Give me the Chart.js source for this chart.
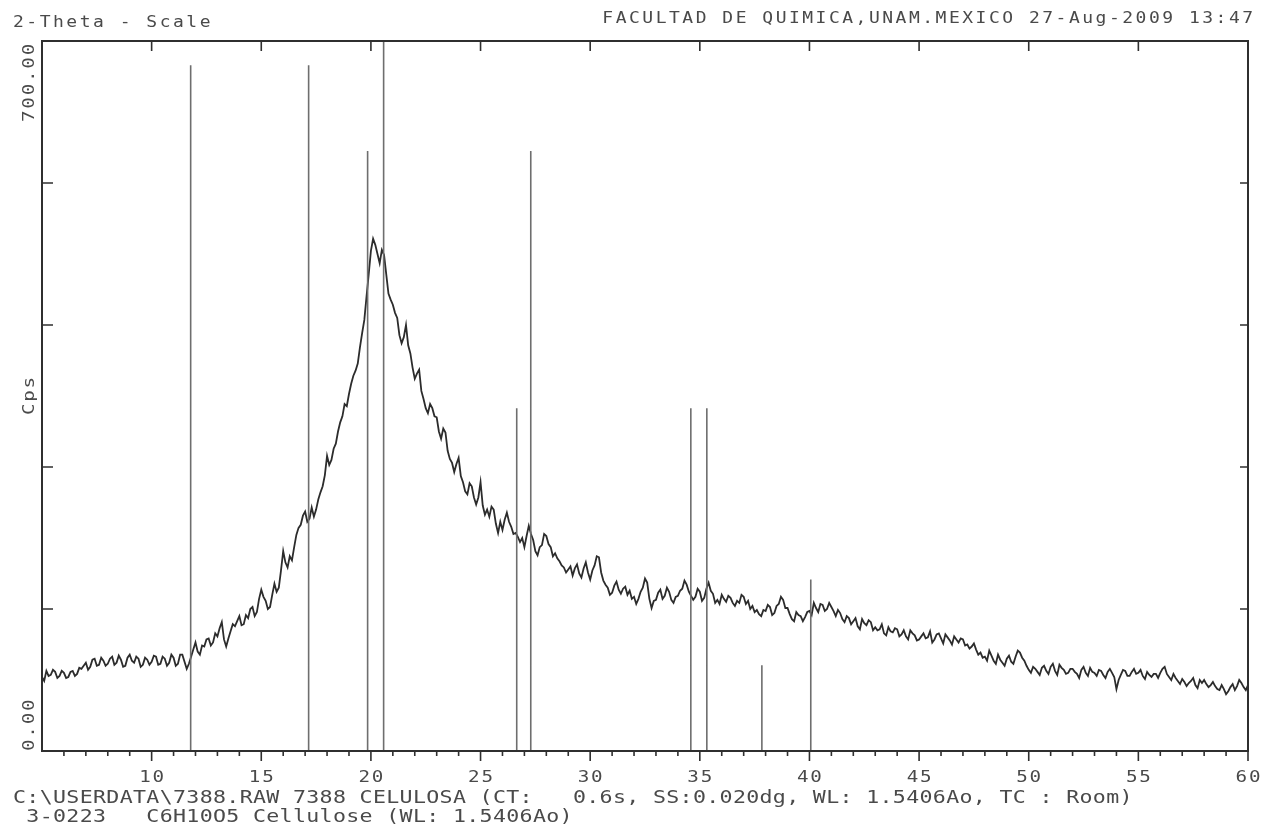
<!DOCTYPE html>
<html>
<head>
<meta charset="utf-8">
<title>7388 CELULOSA - XRD</title>
<script src="https://cdn.jsdelivr.net/npm/chart.js@4.4.0/dist/chart.umd.min.js"></script>
<style>
  html, body { margin: 0; padding: 0; background: #fff; }
  canvas { display: block; }
</style>
</head>
<body>
<canvas id="xrdChart" width="1266" height="827"></canvas>
<script>
// Scan (2-theta in degrees), one reading every scanStep
const scanStart = 5;
const scanStep = 0.1;

// Counts per second, 5.0 .. 60.0
const cps = [
  73, 69, 79, 74, 75, 80, 78, 72, 74, 79,            // 5
  77, 72, 73, 78, 79, 74, 76, 82, 81, 84,            // 6
  87, 80, 83, 90, 91, 84, 85, 92, 89, 84,            // 7
  86, 91, 93, 85, 87, 94, 90, 83, 84, 92,            // 8
  95, 89, 87, 93, 91, 83, 85, 92, 90, 85,            // 9
  88, 94, 93, 85, 86, 93, 91, 84, 87, 95,            // 10
  92, 84, 86, 95, 95, 88, 81, 86, 93, 100,           // 11
  107, 98, 95, 104, 103, 110, 111, 104, 107, 116,    // 12
  113, 121, 127, 110, 103, 111, 118, 125, 123, 128,  // 13
  133, 124, 125, 134, 131, 140, 142, 133, 137, 150,  // 14
  159, 152, 148, 140, 142, 154, 165, 157, 161, 178,  // 15
  197, 186, 181, 192, 188, 201, 213, 220, 223, 232,  // 16
  236, 226, 229, 240, 231, 238, 248, 255, 261, 272,  // 17
  291, 282, 287, 298, 303, 315, 324, 330, 342, 340,  // 18
  352, 362, 370, 375, 382, 398, 412, 425, 448, 470,  // 19
  493, 505, 499, 490, 481, 494, 489, 470, 451, 445,  // 20
  440, 432, 427, 410, 402, 408, 420, 400, 392, 378,  // 21
  367, 372, 376, 355, 347, 338, 333, 342, 338, 330,  // 22
  329, 315, 308, 318, 314, 296, 288, 284, 275, 283,  // 23
  289, 271, 265, 256, 253, 264, 261, 250, 243, 250,  // 24
  265, 242, 233, 238, 231, 241, 238, 224, 215, 226,  // 25
  218, 228, 235, 226, 221, 214, 215, 211, 206, 210,  // 26
  201, 212, 222, 214, 208, 197, 193, 201, 203, 214,  // 27
  212, 204, 201, 192, 195, 190, 187, 183, 181, 176,  // 28
  179, 182, 173, 180, 184, 175, 171, 180, 186, 176,  // 29
  169, 178, 183, 192, 191, 176, 168, 164, 161, 154,  // 30
  156, 163, 167, 159, 155, 160, 162, 154, 158, 150,  // 31
  152, 145, 150, 157, 161, 170, 166, 150, 141, 148,  // 32
  149, 156, 159, 150, 153, 161, 157, 149, 146, 152,  // 33
  153, 158, 160, 168, 164, 157, 153, 149, 152, 160,  // 34
  157, 148, 151, 160, 166, 158, 155, 146, 149, 145,  // 35
  154, 150, 147, 153, 151, 146, 143, 148, 146, 154,  // 36
  152, 145, 148, 140, 143, 137, 139, 135, 133, 139,  // 37
  138, 144, 142, 134, 136, 143, 145, 152, 149, 141,  // 38
  141, 135, 130, 128, 137, 134, 133, 128, 132, 137,  // 39
  138, 134, 146, 141, 137, 145, 144, 138, 140, 146,  // 40
  142, 138, 133, 139, 136, 130, 127, 133, 131, 125,  // 41
  128, 131, 123, 120, 130, 126, 124, 129, 127, 119,  // 42
  122, 119, 120, 125, 116, 114, 122, 118, 117, 121,  // 43
  120, 113, 115, 119, 113, 110, 119, 116, 114, 109,  // 44
  110, 113, 116, 111, 112, 118, 107, 110, 115, 116,  // 45
  111, 106, 115, 112, 109, 105, 113, 110, 107, 111,  // 46
  110, 104, 105, 101, 103, 106, 100, 95, 97, 92,     // 47
  93, 89, 99, 94, 89, 86, 95, 90, 87, 84,            // 48
  91, 94, 88, 86, 93, 99, 97, 92, 89, 84,            // 49
  80, 77, 83, 81, 78, 75, 82, 84, 79, 76,            // 50
  83, 86, 79, 75, 85, 82, 80, 76, 77, 81,            // 51
  81, 78, 76, 72, 80, 83, 77, 74, 82, 78,            // 52
  77, 74, 80, 79, 75, 72, 78, 81, 77, 73,            // 53
  61, 70, 75, 80, 79, 74, 74, 78, 81, 76,            // 54
  77, 80, 74, 71, 78, 75, 73, 76, 76, 72,            // 55
  77, 81, 83, 76, 73, 70, 76, 72, 69, 66,            // 56
  71, 68, 64, 67, 69, 72, 65, 62, 70, 67,            // 57
  70, 66, 63, 65, 68, 64, 61, 60, 65, 61,            // 58
  56, 59, 63, 66, 60, 64, 70, 67, 63, 60,            // 59
  65                                                 // 60
];

// Reference pattern 3-0223 Cellulose (stick lines)
const refAngles = [11.78, 17.16, 19.85, 20.58, 26.65, 27.29, 34.59, 35.32, 37.83, 40.06];
const refIntensity = [80, 80, 70, 100, 40, 70, 40, 40, 10, 20];   // relative %
const refScale = 8.45;   // cps drawn per 1 %

// Axes
const xMin = 5, xMax = 60;
const yMin = 0, yMax = 700;
const xLabelTicks = [10, 15, 20, 25, 30, 35, 40, 45, 50, 55, 60];
const yTicks = [140, 280, 420, 560];
const yEndLabels = ['0.00', '700.00'];

// Texts
const headerLeft = '2-Theta - Scale';
const headerRight = 'FACULTAD DE QUIMICA,UNAM.MEXICO 27-Aug-2009 13:47';
const yTitle = 'Cps';
const footerLines = [
  'C:\\USERDATA\\7388.RAW 7388 CELULOSA (CT:   0.6s, SS:0.020dg, WL: 1.5406Ao, TC : Room)',
  ' 3-0223   C6H10O5 Cellulose (WL: 1.5406Ao)'
];

// Build point lists
const scanPoints = cps.map((v, i) => ({ x: +(scanStart + i * scanStep).toFixed(2), y: v }));

const refPoints = [];
refAngles.forEach((a, i) => {
  refPoints.push({ x: a, y: 0 }, { x: a, y: refIntensity[i] * refScale }, { x: a, y: null });
});

const FONT = '"DejaVu Sans Mono", "Liberation Mono", monospace';
const PITCH = 13.33;       // plotter character pitch
const STRETCH = 1.2;       // plotter glyphs are wider than DejaVu
const TEXT_COLOR = '#4a4a4a';

// Draw text with the wide plotter pitch
function spacedText(ctx, text, x, y, size, align) {
  const spacing = PITCH / STRETCH - 0.602 * size;
  const width = text.length * PITCH - spacing * STRETCH;
  let startX = x;
  if (align === 'center') startX = x - width / 2;
  if (align === 'right') startX = x - width;
  ctx.save();
  ctx.translate(startX, y);
  ctx.scale(STRETCH, 1);
  ctx.font = size + 'px ' + FONT;
  ctx.textAlign = 'left';
  ctx.textBaseline = 'alphabetic';
  if ('letterSpacing' in ctx) {
    ctx.letterSpacing = spacing + 'px';
    ctx.fillText(text, 0, 0);
    ctx.letterSpacing = '0px';
  } else {
    ctx.fillText(text, 0, 0, width / STRETCH);
  }
  ctx.restore();
}

const framePlugin = {
  id: 'xrdFrame',
  afterDraw(chart) {
    const { ctx, chartArea: a, scales: { x, y } } = chart;
    ctx.save();

    // frame
    ctx.strokeStyle = '#2f2f2f';
    ctx.lineWidth = 2;
    ctx.strokeRect(a.left, a.top, a.right - a.left, a.bottom - a.top);

    // tick marks
    ctx.lineWidth = 1.6;
    ctx.beginPath();
    for (let v = xMin + 1; v < xMax; v++) {
      const px = x.getPixelForValue(v);
      const major = xLabelTicks.includes(v);
      ctx.moveTo(px, a.bottom);
      ctx.lineTo(px, a.bottom + (major ? 10 : 5));
      if (major) {
        ctx.moveTo(px, a.top);
        ctx.lineTo(px, a.top + 10);
      }
    }
    const pxEnd = x.getPixelForValue(xMax);
    ctx.moveTo(pxEnd, a.bottom);
    ctx.lineTo(pxEnd, a.bottom + 10);
    yTicks.forEach(v => {
      const py = y.getPixelForValue(v);
      ctx.moveTo(a.left, py);
      ctx.lineTo(a.left + 11, py);
      ctx.moveTo(a.right, py);
      ctx.lineTo(a.right - 8, py);
    });
    ctx.stroke();

    // texts
    ctx.fillStyle = TEXT_COLOR;
    xLabelTicks.forEach(v => {
      spacedText(ctx, String(v), x.getPixelForValue(v), a.bottom + 31, 16, 'center');
    });

    spacedText(ctx, headerLeft, 13, 27, 15, 'left');
    spacedText(ctx, headerRight, 1253, 23, 15, 'right');
    spacedText(ctx, footerLines[0], 13, 803, 18, 'left');
    spacedText(ctx, footerLines[1], 13, 822, 18, 'left');

    // rotated y labels
    const rotated = (text, baseX, startY) => {
      ctx.save();
      ctx.translate(baseX, startY);
      ctx.rotate(-Math.PI / 2);
      spacedText(ctx, text, 0, 0, 16, 'left');
      ctx.restore();
    };
    rotated(yEndLabels[0], 34, y.getPixelForValue(yMin));
    rotated(yEndLabels[1], 34, 122);
    const titleLen = yTitle.length * PITCH - (PITCH - 0.602 * 16 * STRETCH);
    rotated(yTitle, 34, (a.top + a.bottom) / 2 + titleLen / 2);

    ctx.restore();
  }
};

const chart = new Chart(document.getElementById('xrdChart'), {
  type: 'line',
  data: {
    datasets: [
      {
        label: '3-0223 Cellulose',
        data: refPoints,
        borderColor: '#6e6e6e',
        borderWidth: 1.6,
        pointRadius: 0,
        spanGaps: false,
        tension: 0
      },
      {
        label: '7388 CELULOSA',
        data: scanPoints,
        borderColor: '#2c2c2c',
        borderWidth: 1.8,
        pointRadius: 0,
        tension: 0
      }
    ]
  },
  options: {
    responsive: false,
    animation: false,
    layout: { padding: { left: 42, right: 18, top: 41, bottom: 76 } },
    plugins: {
      legend: { display: false },
      tooltip: { enabled: false }
    },
    scales: {
      x: { type: 'linear', min: xMin, max: xMax, display: false },
      y: { type: 'linear', min: yMin, max: yMax, display: false }
    }
  },
  plugins: [framePlugin]
});
</script>
</body>
</html>
